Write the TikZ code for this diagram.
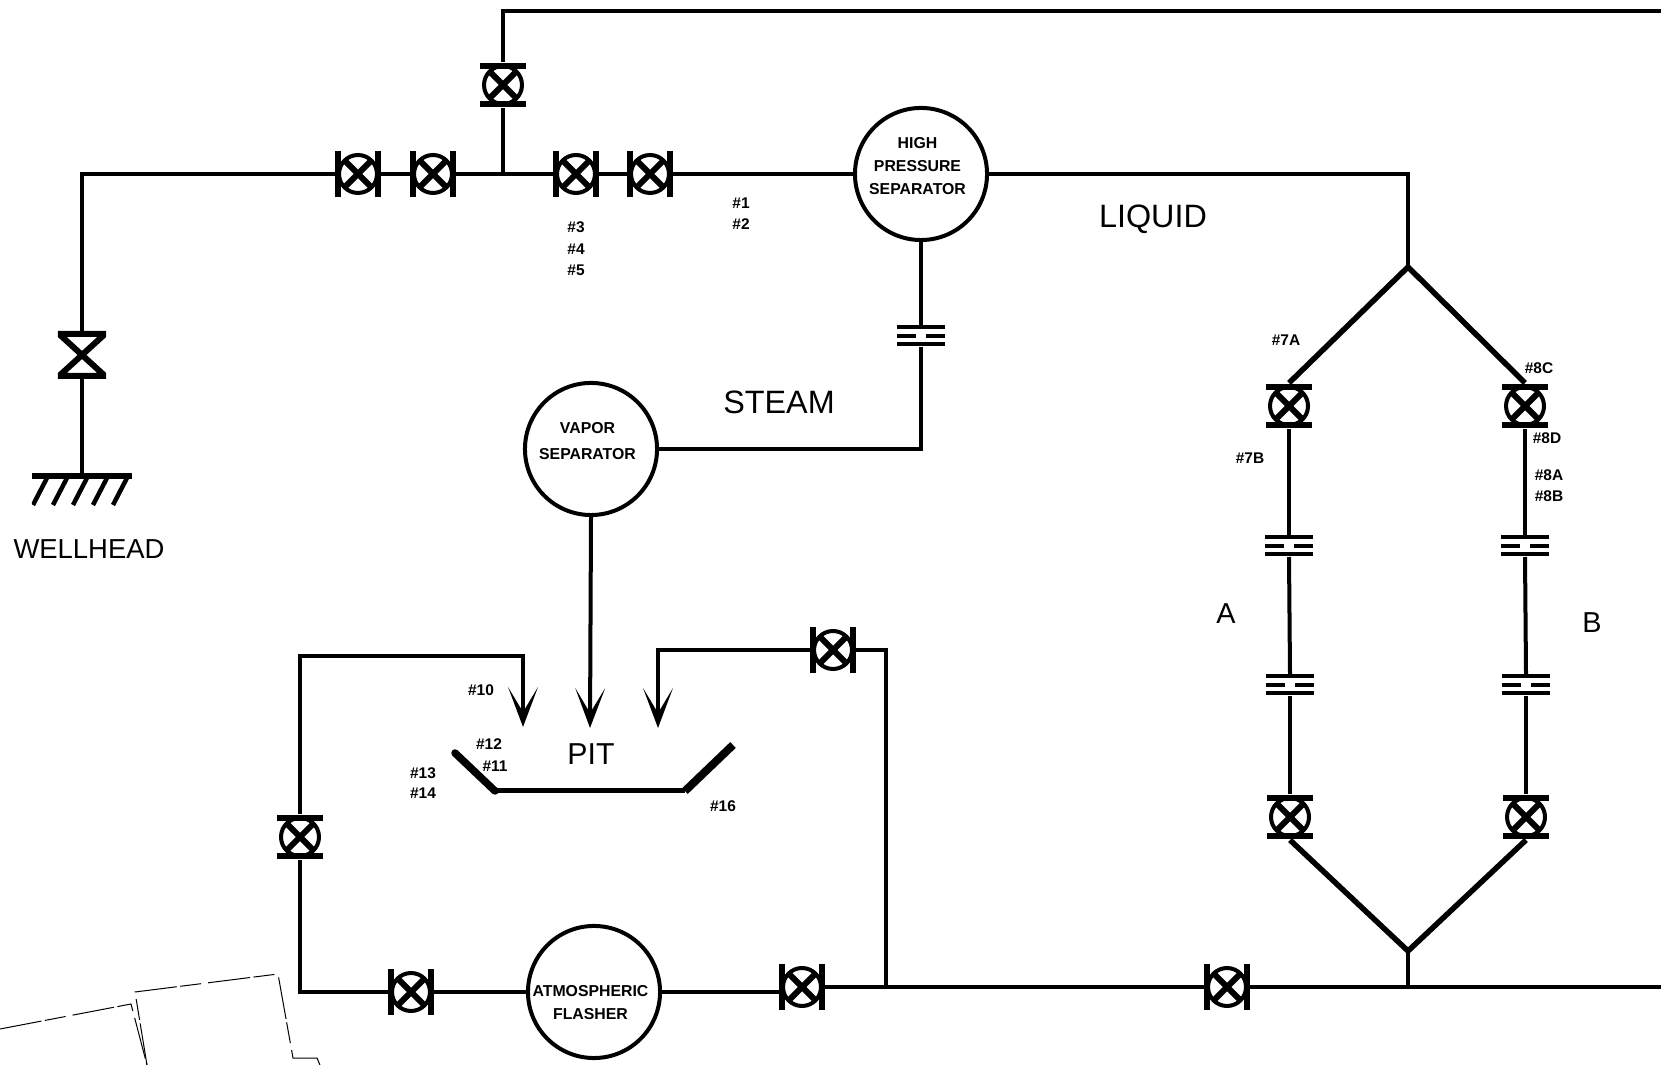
\documentclass[tikz,border=0pt]{standalone}
\usepackage{fontspec}
\setmainfont{Liberation Sans}
\usetikzlibrary{arrows.meta}

\newcommand{\vesseltext}[2]{\raisebox{#1}[0pt][0pt]{\begin{tabular}[c]{@{}c@{}}#2\end{tabular}}\hspace*{.07cm}}
\newcommand{\valvebody}{
	\draw[line width=.04cm] (0,0) circle (19);
	\draw[line width=.06cm] (-13,-13)--(13,13) (-13,13)--(13,-13);
}

\tikzset{
	pipe/.style={line width=.04cm},
	leg/.style={line width=.055cm},
	flow/.style={pipe,-{Stealth[length=.4cm,width=.3cm,inset=.25cm,line width=0pt]}},
	vessel/.style={circle,draw,line width=.04cm,inner sep=0pt,minimum size=1.32cm,font=\fontsize{4.5}{6.5}\selectfont\bfseries},
	valveh/.style={rectangle,inner sep=0pt,outer sep=0pt,minimum size=.46cm,path picture={
		\begin{scope}[shift={(path picture bounding box.center)}]
			\valvebody
			\draw[line width=.055cm] (-20,-23)--(-20,23) (20,-23)--(20,23);
		\end{scope}}},
	valvev/.style={rectangle,inner sep=0pt,outer sep=0pt,minimum size=.46cm,path picture={
		\begin{scope}[shift={(path picture bounding box.center)}]
			\valvebody
			\draw[line width=.055cm] (-23,-19)--(23,-19) (-23,19)--(23,19);
		\end{scope}}},
	bowtie/.style={rectangle,inner sep=0pt,outer sep=0pt,minimum size=.48cm,path picture={
		\begin{scope}[shift={(path picture bounding box.center)}]
			\draw[line width=.06cm,line join=miter] (-23,-21)--(23,-21)--(-23,21)--(23,21)--cycle;
		\end{scope}}},
	orifice/.style={rectangle,inner sep=0pt,outer sep=0pt,minimum width=.5cm,minimum height=.22cm,path picture={
		\begin{scope}[shift={(path picture bounding box.center)},line width=.04cm]
			\draw (-24,-8.5)--(24,-8.5) (-24,8.5)--(24,8.5);
			\draw (-24,0)--(-5,0) (5,0)--(24,0);
		\end{scope}}},
	ground/.style={rectangle,inner sep=0pt,outer sep=0pt,minimum width=1cm,minimum height=.32cm,path picture={
		\begin{scope}[shift={(path picture bounding box.center)}]
			\draw[line width=.055cm] (-50,-14)--(50,-14);
			\foreach \hx in {-49,-29,-9,11,31}{
				\draw[line width=.045cm] (\hx,15)--(\hx+15,-14);
			}
		\end{scope}}},
	tag/.style={inner sep=0pt,font=\fontsize{4.4}{5}\selectfont\bfseries},
	stream/.style={inner sep=0pt,font=\fontsize{9.2}{11}\selectfont},
	title/.style={inner sep=0pt,font=\fontsize{7.8}{9}\selectfont},
	fold/.style={line width=.01cm,dash pattern=on 12pt off 1pt on 6pt off 2pt}
}

\begin{document}
\begin{tikzpicture}[x=0.01cm,y=-0.01cm]
	\useasboundingbox (0,0) rectangle (1661,1065);

	%vessels
	\node[vessel] (hps) at (921,174) {\vesseltext{.03cm}{HIGH\\PRESSURE\\SEPARATOR}};
	\node[vessel] (vapsep) at (591,449) {\vesseltext{.03cm}{VAPOR\\[.8pt]SEPARATOR}};
	\node[vessel] (flasher) at (594,992) {\vesseltext{-.155cm}{ATMOSPHERIC\\FLASHER}};

	%valves
	\foreach \name/\x/\y in {va/358/174, vb/433/174, vc/576/174, vd/650/174, ve/411/992, vf/802/987, vg/1227/987, vh/833/650}{
		\node[valveh] (\name) at (\x,\y) {};
	}
	\foreach \name/\x/\y in {vtop/503/85, vpit/300/837, vla/1289/406, vlb/1290/817, vra/1525/406, vrb/1526/817}{
		\node[valvev] (\name) at (\x,\y) {};
	}
	\node[bowtie] (vwell) at (82,355) {};
	\node[ground] (well) at (82,490) {};

	%orifice plates
	\foreach \name/\x/\y in {osteam/921/336, ola/1289/546, olb/1290/685, ora/1525/546, orb/1526/685}{
		\node[orifice] (\name) at (\x,\y) {};
	}

	%free ends and tees
	\coordinate (tee) at (503,174);
	\coordinate (topend) at (1661,11);
	\coordinate (split) at (1408,267);
	\coordinate (join) at (1408,951);
	\coordinate (joinb) at (1408,987);
	\coordinate (teepit) at (886,987);
	\coordinate (botend) at (1661,987);
	\coordinate (bendl) at (523,656);
	\coordinate (tipl) at (523,727);
	\coordinate (tipm) at (590,728);
	\coordinate (tipr) at (658,728);
	\coordinate (pita) at (455,753);
	\coordinate (pitb) at (495,791);
	\coordinate (pitc) at (685,791);
	\coordinate (pitd) at (733,745);

	%liquid and steam lines
	\draw[pipe] (well.north) -- (vwell.south);
	\draw[pipe] (vwell.north) |- (va.west);
	\draw[pipe] (va.east) -- (vb.west);
	\draw[pipe] (vb.east) -- (vc.west);
	\draw[pipe] (vc.east) -- (vd.west);
	\draw[pipe] (vd.east) -- (hps.west);
	\draw[pipe] (tee) -- (vtop.south);
	\draw[pipe] (vtop.north) |- (topend);
	\draw[pipe] (hps.east) -| (split);
	\draw[pipe] (hps.south) -- (osteam.north);
	\draw[pipe] (osteam.south) |- (vapsep.east);

	%test legs
	\draw[leg] (split) -- (vla.north);
	\draw[leg] (split) -- (vra.north);
	\draw[pipe] (vla.south) -- (ola.north);
	\draw[pipe] (ola.south) -- (olb.north);
	\draw[pipe] (olb.south) -- (vlb.north);
	\draw[pipe] (vra.south) -- (ora.north);
	\draw[pipe] (ora.south) -- (orb.north);
	\draw[pipe] (orb.south) -- (vrb.north);
	\draw[leg] (vlb.south) -- (join);
	\draw[leg] (vrb.south) -- (join);
	\draw[pipe] (join) -- (joinb);

	%return to flasher and pit
	\draw[pipe] (botend) -- (vg.east);
	\draw[pipe] (vg.west) -- (vf.east);
	\draw[pipe] (vf.west |- flasher.east) -- (flasher.east);
	\draw[pipe] (flasher.west) -- (ve.east);
	\draw[pipe] (ve.west) -| (vpit.south);
	\draw[flow] (vpit.north) |- (bendl) -- (tipl);
	\draw[flow] (vapsep.south) -- (tipm);
	\draw[flow] (vh.west) -| (tipr);
	\draw[pipe] (vh.east) -| (teepit);

	%pit
	\draw[line width=.075cm,line cap=round] (pita) -- (pitb);
	\draw[line width=.05cm] (pitb) -- (pitc);
	\draw[line width=.08cm] (pitc) -- (pitd);

	%labels
	\node[title] (lwell) at (89,549) {WELLHEAD};
	\node[stream] (lliq) at (1153,219) {LIQUID};
	\node[stream] (lsteam) at (779,402) {STEAM};
	\node[stream,font=\fontsize{8.6}{10}\selectfont] (lpit) at (591,754) {PIT};
	\node[stream,font=\fontsize{8.2}{10}\selectfont] (la) at (1226,614) {A};
	\node[stream,font=\fontsize{8.2}{10}\selectfont] (lb) at (1592,623) {B};
	\foreach \x/\y/\t in {741/203/1, 741/224/2, 576/227/3, 576/249/4, 576/270/5, 1286/340/7A, 1250/458/7B,
		1539/368/8C, 1547/438/8D, 1549/475/8A, 1549/496/8B, 481/690/10, 495/766/11, 489/744/12, 423/773/13, 423/793/14, 723/806/16}{
		\node[tag] (tag\t) at (\x,\y) {\#\t};
	}

	%fold marks of the sheet
	\draw[fold] (0,1029) -- (131,1004) -- (147,1065);
	\draw[fold] (147,1065) -- (135,992) -- (278,974) -- (293,1058) -- (317,1058) -- (320,1065);
\end{tikzpicture}
\end{document}
